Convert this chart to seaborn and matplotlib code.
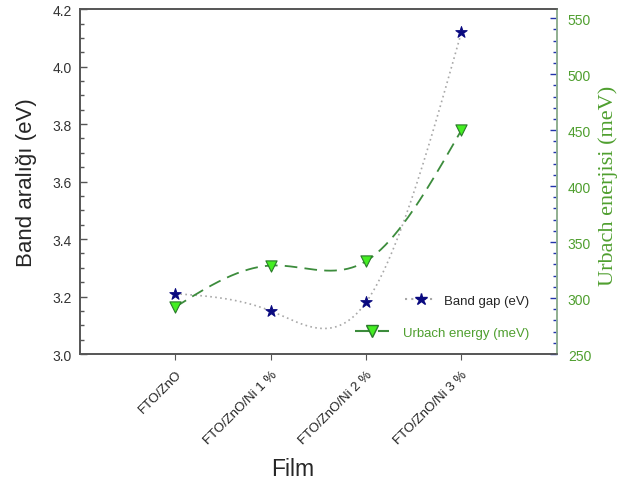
"""Band gap and Urbach energy vs film composition."""
# %%
import numpy as np
import seaborn as sns
import matplotlib.pyplot as plt
from matplotlib.lines import Line2D
from matplotlib.ticker import MultipleLocator

# %%
films = ["FTO/ZnO", "FTO/ZnO/Ni 1 %", "FTO/ZnO/Ni 2 %", "FTO/ZnO/Ni 3 %"]
pos = [1, 2, 3, 4]
band_gap = [3.21, 3.15, 3.18, 4.12]
urbach = [292, 329, 333, 450]


def natural_spline(x, y, n=200):
    """Smooth connecting curve through the measured points (Origin-style)."""
    x = np.asarray(x, float)
    y = np.asarray(y, float)
    k = len(x)
    h = np.diff(x)
    A = np.zeros((k, k))
    b = np.zeros(k)
    A[0, 0] = A[-1, -1] = 1
    for i in range(1, k - 1):
        A[i, i - 1] = h[i - 1]
        A[i, i] = 2 * (h[i - 1] + h[i])
        A[i, i + 1] = h[i]
        b[i] = 6 * ((y[i + 1] - y[i]) / h[i] - (y[i] - y[i - 1]) / h[i - 1])
    m = np.linalg.solve(A, b)
    xs = np.linspace(x[0], x[-1], n)
    idx = np.clip(np.searchsorted(x, xs) - 1, 0, k - 2)
    t0 = xs - x[idx]
    t1 = x[idx + 1] - xs
    hh = h[idx]
    ys = (m[idx] * t1**3 + m[idx + 1] * t0**3) / (6 * hh) \
        + (y[idx] / hh - m[idx] * hh / 6) * t1 \
        + (y[idx + 1] / hh - m[idx + 1] * hh / 6) * t0
    return xs, ys


# %%
sns.set_style("ticks")
plt.rcParams["font.family"] = ["Liberation Sans", "DejaVu Sans"]
plt.rcParams["ytick.minor.visible"] = True

fig, ax = plt.subplots(figsize=(6.2, 4.85), dpi=100)
fig.subplots_adjust(left=0.129, right=0.898, top=0.979, bottom=0.268)
ax2 = ax.twinx()

bg_col = "#0a0a80"
ur_line = "#3c8c3c"
ur_face = "#44ee22"
ur_edge = "#2a7a2a"
ur_text = "#4f9f2f"
dot_col = "#a8a8a8"

# band gap curve
xs, ys = natural_spline(pos, band_gap)
sns.lineplot(x=xs, y=ys, ax=ax, color=dot_col, linestyle=(0, (1, 2)), lw=1.2)
sns.scatterplot(x=pos, y=band_gap, ax=ax, marker="*", s=75, color=bg_col,
                edgecolor=bg_col, zorder=5)

# urbach curve
xs2, ys2 = natural_spline(pos, urbach)
sns.lineplot(x=xs2, y=ys2, ax=ax2, color=ur_line, linestyle=(0, (7, 4)), lw=1.3)
sns.scatterplot(x=pos, y=urbach, ax=ax2, marker="v", s=65, color=ur_face,
                edgecolor=ur_edge, linewidth=0.8, zorder=5)

# axes
ax.set_xlim(0, 5)
ax.set_ylim(3.0, 4.2)
ax2.set_ylim(250, 558)
ax.set_xticks(pos)
ax.set_xticklabels(films, rotation=45, ha="right", rotation_mode="anchor",
                   fontsize=9.5, color="#222222")
ax.xaxis.set_minor_locator(plt.NullLocator())
ax.yaxis.set_major_locator(MultipleLocator(0.2))
ax.yaxis.set_minor_locator(MultipleLocator(0.05))
ax.yaxis.set_major_formatter(plt.FormatStrFormatter("%.1f"))
ax.tick_params(axis="y", which="both", direction="in", left=True, right=False,
               color="#555555", width=1, labelsize=10, labelcolor="#333333", pad=6)
ax.tick_params(axis="y", which="major", length=5)
ax.tick_params(axis="y", which="minor", length=3)
ax.tick_params(axis="x", direction="out", bottom=True, length=4, color="#555555",
               pad=6)

ax2.yaxis.set_major_locator(MultipleLocator(50))
ax2.yaxis.set_minor_locator(MultipleLocator(10))
ax2.tick_params(axis="y", which="both", direction="in", right=True, left=False,
                color="#2233aa", width=1, labelsize=10, labelcolor=ur_text, pad=8)
ax2.tick_params(axis="y", which="major", length=5)
ax2.tick_params(axis="y", which="minor", length=3)

for a in (ax, ax2):
    for sp in a.spines.values():
        sp.set_color("#555555")
        sp.set_linewidth(1.2)
ax2.spines["right"].set_color("#9abf9a")

ax.set_xlabel("Film", fontsize=16.5)
ax.xaxis.set_label_coords(0.447, -0.30)
ax.set_ylabel("Band aralığı (eV)", fontsize=16)
ax.yaxis.set_label_coords(-0.09, 0.5)
ax2.set_ylabel("Urbach enerjisi (meV)", fontsize=16, color=ur_text,
               family=["Liberation Serif", "DejaVu Serif"])
ax2.yaxis.set_label_coords(1.088, 0.49)

# legends (two separate entries, as in the original)
h_bg = Line2D([], [], color=dot_col, linestyle=(0, (1, 2)), marker="*",
              markersize=9, markerfacecolor=bg_col, markeredgecolor=bg_col)
h_ur = Line2D([], [], color=ur_line, linestyle=(0, (7, 4)), marker="v",
              markersize=8, markerfacecolor=ur_face, markeredgecolor=ur_edge)
leg1 = ax.legend([h_bg], ["Band gap (eV)"], frameon=False, loc="center left",
                 bbox_to_anchor=(0.681, 0.154), fontsize=9.5, borderpad=0,
                 borderaxespad=0, handlelength=2.4, handletextpad=0.6)
ax.add_artist(leg1)
leg2 = ax.legend([h_ur], ["Urbach energy (meV)"], frameon=False, loc="center left",
                 bbox_to_anchor=(0.577, 0.061), fontsize=9.5, borderpad=0,
                 borderaxespad=0, handlelength=2.6, handletextpad=1.0)
leg2.get_texts()[0].set_color(ur_text)

plt.savefig("out.png", dpi=100)
